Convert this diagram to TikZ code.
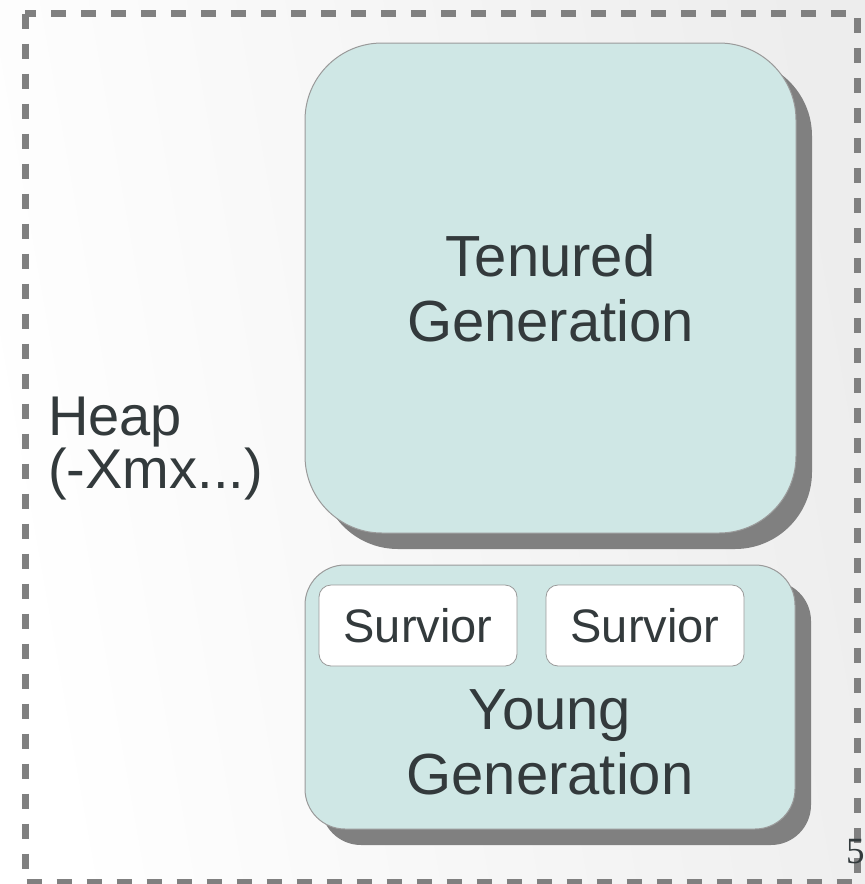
\documentclass[tikz,border=0pt]{standalone}
\usepackage{fontspec}
\setmainfont{Liberation Sans}
\newfontfamily\numfont{Liberation Serif}
\usetikzlibrary{shadows}
\definecolor{tealfill}{HTML}{CFE7E5}
\definecolor{txt}{HTML}{333A3C}
\definecolor{shadowgray}{HTML}{808080}
\definecolor{edgegray}{HTML}{9A9A9A}
\definecolor{framegray}{HTML}{808080}
\begin{document}
\begin{tikzpicture}[x=1pt,y=-1pt,
  genbox/.style={draw=edgegray, line width=1pt, fill=tealfill, inner sep=0pt,
    drop shadow={shadow xshift=16pt, shadow yshift=-16pt, fill=shadowgray, opacity=1}},
  survbox/.style={draw=edgegray, line width=0.8pt, fill=white, rounded corners=12pt,
    minimum width=198pt, minimum height=81pt, inner sep=0pt,
    font=\fontsize{47}{52}\selectfont, text=txt},
  bigtext/.style={font=\fontsize{58}{65}\selectfont, text=txt, align=center},
  heaptext/.style={font=\fontsize{56}{53}\selectfont, text=txt, align=left, inner sep=0pt}
]
\shade[left color=white, right color=black!7, shading angle=100] (0,0) rectangle (865,884);
\useasboundingbox (0,0) rectangle (865,884);
\draw[framegray, line width=7pt, dash pattern=on 15pt off 15pt] (25,13.5) rectangle (857,882);

\node[heaptext, anchor=base west] (heap) at (48,488) {Heap\\(-Xmx...)};

\node[genbox, rounded corners=77pt, minimum width=491pt, minimum height=490pt, bigtext] (tenured) at (550.5,288) {Tenured\\Generation};

\node[genbox, rounded corners=40pt, minimum width=490pt, minimum height=264pt] (young) at (550,697) {};
\node[survbox] (s1) at (418,625.5) {Survior};
\node[survbox] (s2) at (645,625.5) {Survior};
\node[bigtext, anchor=base] (ytext) at (550,794) {Young\\Generation};

\node[anchor=base west, inner sep=0pt, font=\numfont\fontsize{37}{40}\selectfont, text=txt] (pagenum) at (846,863) {5};
\end{tikzpicture}
\end{document}
